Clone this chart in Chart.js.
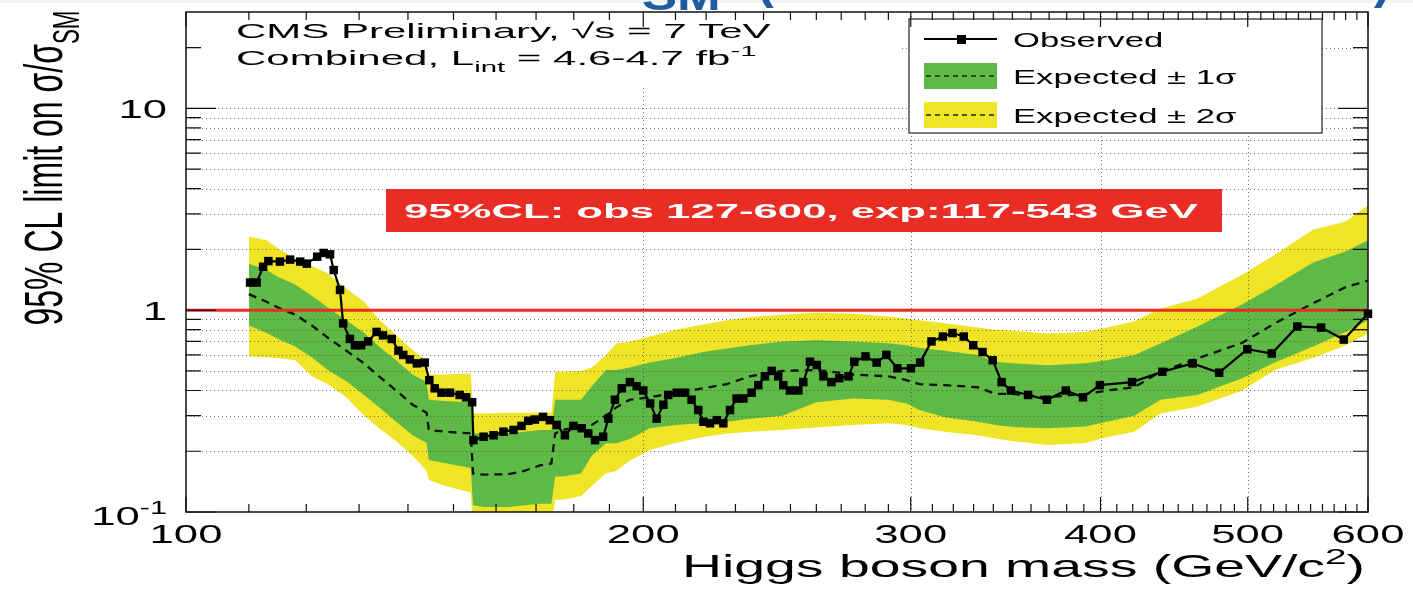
<!DOCTYPE html>
<html>
<head>
<meta charset="utf-8">
<script src="https://cdn.jsdelivr.net/npm/chart.js@4.4.1/dist/chart.umd.min.js"></script>
<style>
  html, body { margin: 0; padding: 0; background: #fff; }
  #wrap { width: 1413px; height: 591px; }
</style>
</head>
<body>
<div id="wrap"><canvas id="limitChart"></canvas></div>
<script>
// observed 95% CL limit on sigma/sigma_SM vs Higgs mass (GeV)
const obsMass = [
  110.2, 111.3, 112.4, 113.3, 115.3, 117.1, 118.9, 120.1, 122.0, 123.2,
  124.4, 125.1, 126.3, 126.9, 128.2, 129.2, 130.4, 131.8, 133.5, 134.8,
  136.6, 138.0, 139.0, 140.4, 141.9, 143.6, 144.6, 145.8, 147.3, 149.2,
  151.4, 152.9, 154.3, 154.6, 157.0, 159.4, 161.8, 164.3, 166.3, 168.0,
  169.7, 171.8, 173.6, 175.4, 177.6, 179.9, 182.2, 184.0, 185.9, 188.2,
  189.7, 191.6, 193.6, 196.0, 198.0, 200.0, 202.1, 204.1, 206.2, 207.7,
  210.4, 213.1, 215.2, 217.4, 219.1, 221.3, 223.6, 225.8, 228.1, 230.4,
  232.8, 235.7, 238.1, 240.5, 243.0, 245.4, 247.3, 249.8, 253.0, 254.9,
  257.5, 260.2, 262.8, 266.0, 269.2, 273.0, 275.4, 280.1, 284.9, 289.1,
  294.0, 300.1, 304.3, 309.6, 315.0, 319.6, 325.1, 329.8, 334.5, 339.7,
  344.3, 349.2, 358.4, 368.8, 379.5, 389.5, 399.6, 419.6, 439.3, 459.9,
  478.8, 499.7, 518.6, 539.0, 558.8, 578.4, 600.0
];
const obsLimit = [
  1.37, 1.37, 1.64, 1.75, 1.74, 1.78, 1.74, 1.70, 1.84, 1.92,
  1.89, 1.58, 1.26, 0.86, 0.72, 0.67, 0.67, 0.70, 0.78, 0.75,
  0.72, 0.63, 0.60, 0.57, 0.545, 0.55, 0.45, 0.41, 0.39, 0.39,
  0.38, 0.37, 0.35, 0.227, 0.236, 0.24, 0.25, 0.255, 0.267, 0.283,
  0.287, 0.296, 0.285, 0.27, 0.24, 0.267, 0.26, 0.245, 0.227, 0.236,
  0.29, 0.36, 0.41, 0.44, 0.42, 0.40, 0.345, 0.29, 0.34, 0.38,
  0.39, 0.39, 0.36, 0.32, 0.28, 0.275, 0.285, 0.275, 0.32, 0.365,
  0.365, 0.39, 0.425, 0.47, 0.50, 0.47, 0.425, 0.40, 0.40, 0.44,
  0.555, 0.535, 0.47, 0.44, 0.46, 0.47, 0.555, 0.59, 0.55, 0.60,
  0.515, 0.515, 0.55, 0.70, 0.74, 0.77, 0.74, 0.67, 0.62, 0.565,
  0.44, 0.40, 0.38, 0.36, 0.40, 0.37, 0.425, 0.44, 0.495, 0.545,
  0.49, 0.64, 0.61, 0.83, 0.82, 0.715, 0.96
];

// expected limit (median) with 1 and 2 sigma bands
const bandMass = [
  110, 113, 115, 118, 121, 124, 127.5, 131, 134, 137.5,
  141, 144, 144.5, 148, 154, 154.5, 157, 163, 167, 171,
  174, 175, 177, 182, 185, 189, 192, 196, 202, 210,
  219, 227, 235, 247, 260, 275, 290, 298, 304, 316,
  332, 341, 350, 369, 391, 404, 421, 438, 463, 496,
  521, 552, 580, 600
];
const expMedian = [
  1.20, 1.10, 1.03, 0.95, 0.84, 0.73, 0.63, 0.545, 0.47, 0.40,
  0.34, 0.31, 0.255, 0.25, 0.245, 0.155, 0.153, 0.154, 0.16, 0.17,
  0.174, 0.245, 0.255, 0.265, 0.27, 0.30, 0.33, 0.36, 0.37, 0.39,
  0.41, 0.43, 0.47, 0.50, 0.505, 0.48, 0.47, 0.45, 0.43, 0.425,
  0.415, 0.385, 0.385, 0.37, 0.385, 0.40, 0.415, 0.495, 0.575, 0.69,
  0.86, 1.08, 1.30, 1.40
];
const exp1Up = [
  1.70, 1.58, 1.46, 1.34, 1.18, 1.03, 0.89, 0.77, 0.66, 0.565,
  0.48, 0.44, 0.36, 0.355, 0.35, 0.245, 0.245, 0.245, 0.25, 0.255,
  0.255, 0.36, 0.36, 0.36, 0.42, 0.505, 0.505, 0.52, 0.55, 0.58,
  0.62, 0.645, 0.67, 0.70, 0.71, 0.70, 0.685, 0.67, 0.65, 0.63,
  0.60, 0.555, 0.545, 0.534, 0.545, 0.565, 0.60, 0.684, 0.827, 1.07,
  1.32, 1.72, 1.95, 2.22
];
const exp1Down = [
  0.84, 0.77, 0.72, 0.66, 0.585, 0.505, 0.445, 0.38, 0.33, 0.28,
  0.24, 0.22, 0.181, 0.175, 0.165, 0.108, 0.106, 0.106, 0.108, 0.11,
  0.11, 0.15, 0.15, 0.155, 0.19, 0.219, 0.219, 0.23, 0.26, 0.27,
  0.275, 0.28, 0.29, 0.30, 0.35, 0.365, 0.36, 0.345, 0.32, 0.295,
  0.28, 0.27, 0.264, 0.26, 0.265, 0.28, 0.30, 0.36, 0.38, 0.46,
  0.55, 0.66, 0.78, 0.89
];
const exp2Up = [
  2.32, 2.22, 2.02, 1.80, 1.66, 1.52, 1.28, 1.10, 0.90, 0.75,
  0.634, 0.56, 0.48, 0.48, 0.486, 0.308, 0.308, 0.31, 0.31, 0.31,
  0.31, 0.495, 0.495, 0.50, 0.52, 0.60, 0.684, 0.70, 0.74, 0.80,
  0.85, 0.89, 0.926, 0.95, 0.97, 0.96, 0.93, 0.91, 0.89, 0.86,
  0.82, 0.80, 0.79, 0.767, 0.78, 0.82, 0.88, 1.02, 1.14, 1.50,
  1.88, 2.50, 2.75, 3.31
];
const exp2Down = [
  0.59, 0.585, 0.58, 0.565, 0.47, 0.43, 0.37, 0.30, 0.26, 0.225,
  0.19, 0.16, 0.144, 0.135, 0.125, 0.08, 0.08, 0.08, 0.085, 0.085,
  0.085, 0.115, 0.115, 0.12, 0.135, 0.155, 0.16, 0.18, 0.203, 0.22,
  0.235, 0.245, 0.25, 0.255, 0.262, 0.27, 0.275, 0.27, 0.26, 0.25,
  0.24, 0.231, 0.225, 0.215, 0.22, 0.235, 0.25, 0.308, 0.332, 0.40,
  0.505, 0.58, 0.67, 0.767
];

// sigma/sigma_SM = 1 reference line
const smMass = [100, 600];
const smRatio = [1, 1];

// axis ticks
const xMajorTicks = [100, 200, 300, 400, 500, 600];
const xTickLabels = ['100', '200', '300', '400', '500', '600'];
const xMinorTicks = [110, 120, 130, 140, 150, 160, 170, 180, 190,
  210, 220, 230, 240, 250, 260, 270, 280, 290,
  310, 320, 330, 340, 350, 360, 370, 380, 390,
  410, 420, 430, 440, 450, 460, 470, 480, 490,
  510, 520, 530, 540, 550, 560, 570, 580, 590];
const xGridValues = [200, 300, 400, 500];
const yMajorTicks = [0.1, 1, 10];
const yMinorTicks = [0.2, 0.3, 0.4, 0.5, 0.6, 0.7, 0.8, 0.9,
  2, 3, 4, 5, 6, 7, 8, 9, 20];

const FONT = '"Liberation Sans", Arial, Helvetica, sans-serif';
const GREEN = 'rgb(94,185,70)';
const YELLOW = 'rgb(240,228,38)';
const RED = 'rgb(233,45,36)';
const TITLE_BLUE = '#1d5c9e';

function pts(xs, ys) {
  return xs.map((x, i) => ({ x: x, y: ys[i] }));
}

// text runs with sub/superscripts, glyphs widened like the ROOT output
function richText(ctx, runs, x, y, size, o) {
  o = o || {};
  const weight = o.weight || 'normal';
  ctx.save();
  ctx.translate(x, y);
  if (o.rotate) ctx.rotate(o.rotate);
  ctx.scale(o.sx || 1, o.sy || 1);
  ctx.fillStyle = o.color || '#000';
  ctx.textAlign = 'left';
  ctx.textBaseline = 'alphabetic';
  let total = 0;
  const parts = runs.map(r => {
    const s = (r.sub || r.sup) ? size * 0.7 : size;
    ctx.font = weight + ' ' + s + 'px ' + FONT;
    const w = ctx.measureText(r.t).width;
    total += w;
    return { t: r.t, s: s, w: w, dy: r.sub ? size * 0.32 : (r.sup ? -size * 0.42 : 0) };
  });
  let cx = o.align === 'right' ? -total : (o.align === 'center' ? -total / 2 : 0);
  parts.forEach(p => {
    ctx.font = weight + ' ' + p.s + 'px ' + FONT;
    ctx.fillText(p.t, cx, p.dy);
    cx += p.w;
  });
  ctx.restore();
}

function drawGrid(chart) {
  const ctx = chart.ctx, a = chart.chartArea, xs = chart.scales.x, ys = chart.scales.y;
  ctx.save();
  ctx.strokeStyle = 'rgba(70,70,70,0.75)';
  ctx.lineWidth = 1;
  ctx.setLineDash([1, 3]);
  yMinorTicks.concat(yMajorTicks).forEach(v => {
    const py = Math.round(ys.getPixelForValue(v)) + 0.5;
    if (py <= a.top + 1 || py >= a.bottom - 1) return;
    ctx.beginPath();
    ctx.moveTo(a.left, py);
    ctx.lineTo(a.right, py);
    ctx.stroke();
  });
  xGridValues.forEach(v => {
    const px = Math.round(xs.getPixelForValue(v)) + 0.5;
    ctx.beginPath();
    ctx.moveTo(px, a.top);
    ctx.lineTo(px, a.bottom);
    ctx.stroke();
  });
  ctx.restore();
}

function drawFrame(chart) {
  const ctx = chart.ctx, a = chart.chartArea, xs = chart.scales.x, ys = chart.scales.y;
  ctx.save();
  ctx.strokeStyle = '#111';
  ctx.lineWidth = 1.5;
  ctx.strokeRect(a.left, a.top, a.right - a.left, a.bottom - a.top);
  ctx.lineWidth = 1.2;
  const tickX = (v, len) => {
    const px = xs.getPixelForValue(v);
    ctx.beginPath();
    ctx.moveTo(px, a.bottom); ctx.lineTo(px, a.bottom - len);
    ctx.moveTo(px, a.top); ctx.lineTo(px, a.top + len);
    ctx.stroke();
  };
  const tickY = (v, len) => {
    const py = ys.getPixelForValue(v);
    ctx.beginPath();
    ctx.moveTo(a.left, py); ctx.lineTo(a.left + len, py);
    ctx.moveTo(a.right, py); ctx.lineTo(a.right - len, py);
    ctx.stroke();
  };
  xMinorTicks.forEach(v => tickX(v, 8));
  xMajorTicks.forEach(v => tickX(v, 15));
  yMinorTicks.forEach(v => tickY(v, 15));
  yMajorTicks.forEach(v => tickY(v, 30));
  ctx.restore();
}

function drawLegend(ctx) {
  const L = 909, T = 19, R = 1322, B = 133;
  ctx.save();
  ctx.fillStyle = '#fff';
  ctx.fillRect(L, T, R - L, B - T);
  ctx.strokeStyle = '#333';
  ctx.lineWidth = 1.3;
  ctx.strokeRect(L, T, R - L, B - T);

  // observed sample
  ctx.strokeStyle = '#000';
  ctx.lineWidth = 2;
  ctx.beginPath(); ctx.moveTo(924, 39); ctx.lineTo(997, 39); ctx.stroke();
  ctx.fillStyle = '#000';
  ctx.fillRect(957, 35, 9, 9);

  // band samples with dashed median
  ctx.fillStyle = GREEN;
  ctx.fillRect(924, 63, 73, 26);
  ctx.fillStyle = YELLOW;
  ctx.fillRect(924, 102, 73, 26);
  ctx.strokeStyle = '#222';
  ctx.lineWidth = 1.5;
  ctx.setLineDash([5, 4]);
  ctx.beginPath(); ctx.moveTo(926, 76); ctx.lineTo(996, 76); ctx.stroke();
  ctx.beginPath(); ctx.moveTo(926, 115); ctx.lineTo(996, 115); ctx.stroke();
  ctx.restore();

  const lo = { sx: 1.65 };
  richText(ctx, [{ t: 'Observed' }], 1013, 47, 21, lo);
  richText(ctx, [{ t: 'Expected ± 1σ' }], 1013, 84, 21, lo);
  richText(ctx, [{ t: 'Expected ± 2σ' }], 1013, 123, 21, lo);
}

const decorPlugin = {
  id: 'decor',
  beforeDatasetDraw(chart, args) {
    // grid sits on top of the bands but under the lines
    if (args.index === 2) drawGrid(chart);
  },
  afterDatasetsDraw(chart) {
    const ctx = chart.ctx;
    // panel behind the CMS label
    ctx.save();
    ctx.fillStyle = '#fff';
    ctx.fillRect(188, 14, 712, 74);
    ctx.restore();
    drawLegend(ctx);
    drawFrame(chart);
  },
  afterDraw(chart) {
    const ctx = chart.ctx, xs = chart.scales.x, ys = chart.scales.y;

    // slide title, only its lower edge is on the page
    ctx.save();
    ctx.fillStyle = '#eef3f8';
    ctx.fillRect(0, 0, 1413, 3);
    ctx.restore();
    richText(ctx, [{ t: 'SM' }], 642, 10, 42, { weight: 'bold', color: TITLE_BLUE, sx: 1.25 });
    richText(ctx, [{ t: '(' }], 757, -2, 50, { weight: 'bold', color: TITLE_BLUE });
    richText(ctx, [{ t: ')' }], 1374, -2, 50, { weight: 'bold', color: TITLE_BLUE });

    // CMS labels
    richText(ctx, [{ t: 'CMS Preliminary, √s = 7 TeV' }], 236, 38, 21, { sx: 2.0 });
    richText(ctx, [{ t: 'Combined, L' }, { t: 'int', sub: true }, { t: ' = 4.6-4.7 fb' }, { t: '-1', sup: true }],
      236, 65, 21, { sx: 2.0 });

    // exclusion banner
    ctx.save();
    ctx.fillStyle = RED;
    ctx.fillRect(386, 189, 836, 43);
    ctx.restore();
    richText(ctx, [{ t: '95%CL: obs 127-600, exp:117-543 GeV' }], 404, 218, 21,
      { weight: 'bold', color: '#fff', sx: 2.08 });

    // tick labels
    const tl = { sx: 1.68, align: 'center' };
    xMajorTicks.forEach((v, i) => {
      richText(ctx, [{ t: xTickLabels[i] }], xs.getPixelForValue(v), 543, 26, tl);
    });
    const yr = { sx: 1.68, align: 'right' };
    richText(ctx, [{ t: '10' }], 167, ys.getPixelForValue(10) + 10, 26, yr);
    richText(ctx, [{ t: '1' }], 167, ys.getPixelForValue(1) + 10, 26, yr);
    richText(ctx, [{ t: '10' }, { t: '-1', sup: true }], 167, 525, 26, yr);

    // axis titles
    richText(ctx, [{ t: 'Higgs boson mass (GeV/c' }, { t: '2', sup: true }, { t: ')' }],
      1365, 577, 32, { sx: 1.73, align: 'right' });
    richText(ctx, [{ t: '95% CL limit on σ/σ' }, { t: 'SM', sub: true }],
      62, 168, 32, { rotate: -Math.PI / 2, sy: 1.65, align: 'center' });
  }
};

new Chart(document.getElementById('limitChart'), {
  type: 'line',
  data: {
    datasets: [
      {
        label: 'Observed',
        data: pts(obsMass, obsLimit),
        borderColor: '#000',
        backgroundColor: '#000',
        borderWidth: 2.2,
        pointStyle: 'rect',
        pointRadius: 6,
        pointBorderWidth: 0,
        fill: false,
        clip: false
      },
      {
        label: 'SM',
        data: pts(smMass, smRatio),
        borderColor: RED,
        borderWidth: 3,
        pointRadius: 0,
        fill: false
      },
      {
        label: 'Expected',
        data: pts(bandMass, expMedian),
        borderColor: '#111',
        borderWidth: 2.3,
        borderDash: [8, 6],
        pointRadius: 0,
        fill: false
      },
      {
        label: 'Expected ± 1σ',
        data: pts(bandMass, exp1Up),
        borderColor: 'transparent',
        borderWidth: 0,
        pointRadius: 0,
        backgroundColor: GREEN,
        fill: '+1'
      },
      {
        label: '1σ low',
        data: pts(bandMass, exp1Down),
        borderColor: 'transparent',
        borderWidth: 0,
        pointRadius: 0,
        fill: false
      },
      {
        label: 'Expected ± 2σ',
        data: pts(bandMass, exp2Up),
        borderColor: 'transparent',
        borderWidth: 0,
        pointRadius: 0,
        backgroundColor: YELLOW,
        fill: '+1'
      },
      {
        label: '2σ low',
        data: pts(bandMass, exp2Down),
        borderColor: 'transparent',
        borderWidth: 0,
        pointRadius: 0,
        fill: false
      }
    ]
  },
  options: {
    responsive: true,
    maintainAspectRatio: false,
    animation: false,
    events: [],
    layout: { padding: { left: 186, top: 12, right: 45, bottom: 79 } },
    elements: { line: { tension: 0 } },
    scales: {
      x: { type: 'logarithmic', min: 100, max: 600, display: false },
      y: { type: 'logarithmic', min: 0.1, max: 30, display: false }
    },
    plugins: {
      legend: { display: false },
      tooltip: { enabled: false }
    }
  },
  plugins: [decorPlugin]
});
</script>
</body>
</html>
